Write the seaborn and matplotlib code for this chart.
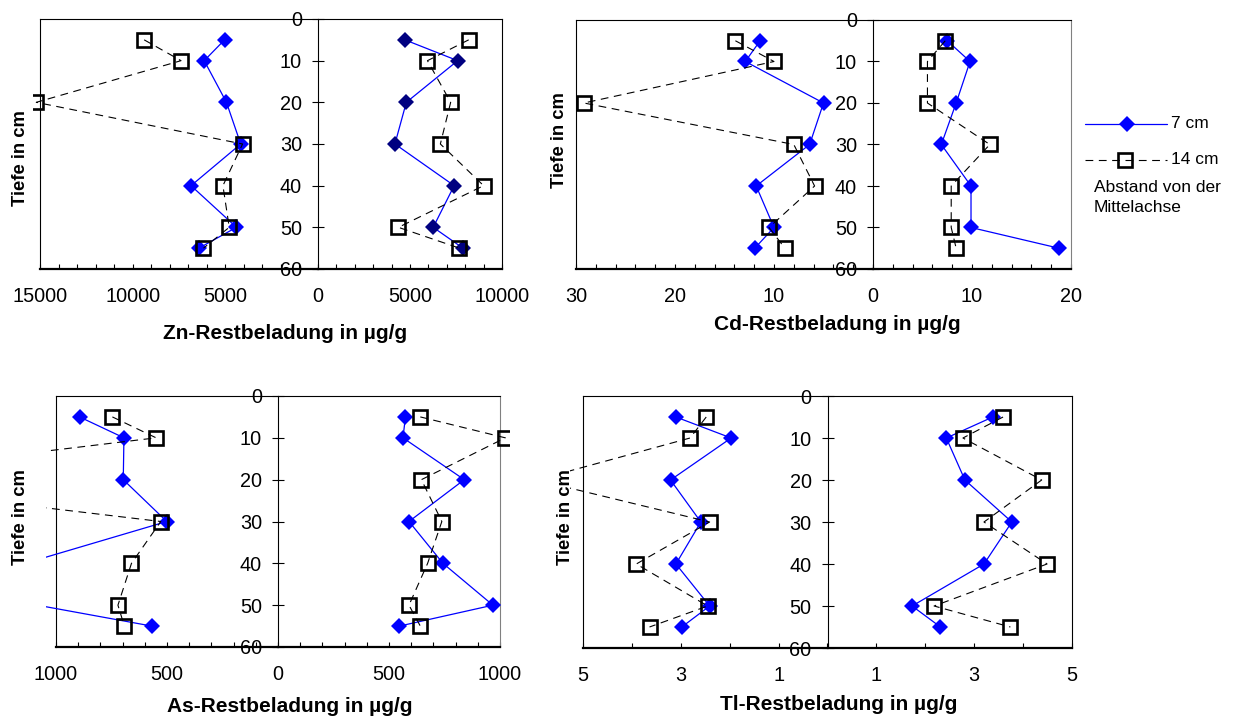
import numpy as np
import pandas as pd
import seaborn as sns
import matplotlib
matplotlib.use("Agg")
import matplotlib.pyplot as plt
from matplotlib.lines import Line2D
from matplotlib.transforms import Bbox, TransformedBbox
from matplotlib.ticker import MultipleLocator, FixedLocator

# ---------------- data ----------------
depth = [5, 10, 20, 30, 40, 50, 55]

zn_left_7 = [5040, 6140, 4940, 4170, 6850, 4400, 6430]
zn_left_14 = [9380, 7390, 15200, 4070, 5130, 4790, 6180]
zn_right_7 = [4720, 7590, 4800, 4180, 7400, 6260, 7880]
zn_right_14 = [8190, 5950, 7210, 6650, 9000, 4370, 7690]

cd_left_7 = [11.4, 12.9, 5.0, 6.4, 11.8, 10.0, 11.95]
cd_left_14 = [13.9, 10.0, 29.2, 8.0, 5.9, 10.5, 8.9]
cd_right_7 = [7.5, 9.8, 8.4, 6.9, 9.9, 9.9, 18.8]
cd_right_14 = [7.3, 5.5, 5.5, 11.8, 7.9, 7.9, 8.4]

as_left_7 = [894, 694, 697, 501, 1139, 1084, 568]
as_left_14 = [746, 549, 2115, 528, 660, 721, 692]
as_right_7 = [574, 563, 839, 590, 743, 968, 547]
as_right_14 = [641, 1024, 646, 738, 674, 590, 641]

tl_left_7 = [3.10, 1.97, 3.21, 2.59, 3.10, 2.41, 2.98]
tl_left_14 = [2.48, 2.81, 5.95, 2.41, 3.91, 2.45, 3.64]
tl_right_7 = [3.38, 2.43, 2.81, 3.77, 3.20, 1.73, 2.31]
tl_right_14 = [3.59, 2.77, 4.38, 3.20, 4.49, 2.18, 3.74]

depth_ticks = [0, 10, 20, 30, 40, 50, 60]
series_labels = ["7 cm", "14 cm"]
legend_note = ["Abstand von der", "Mittelachse"]

# ---------------- style ----------------
sns.set_style("white")
plt.rcParams["font.family"] = ["Liberation Sans", "DejaVu Sans"]
plt.rcParams["axes.linewidth"] = 0.8
plt.rcParams["text.color"] = "black"
plt.rcParams["axes.labelcolor"] = "black"
plt.rcParams["xtick.color"] = "black"
plt.rcParams["ytick.color"] = "black"
plt.rcParams["xtick.labelcolor"] = "black"
plt.rcParams["ytick.labelcolor"] = "black"

W, H = 1236, 717
fig = plt.figure(figsize=(W / 100, H / 100), dpi=100)

BLUE = "#0000FF"
NAVY = "#000080"


def add_axes_px(x0, x1, y0, y1):
    return fig.add_axes([x0 / W, 1 - y1 / H, (x1 - x0) / W, (y1 - y0) / H])


def clip_new_lines(ax, n_before, px_l, px_r, px_v=10):
    pos = ax.get_position()
    wpx = pos.width * W
    hpx = pos.height * H
    bb = Bbox([[-px_l / wpx, -px_v / hpx], [1 + px_r / wpx, 1 + px_v / hpx]])
    tb = TransformedBbox(bb, ax.transAxes)
    for ln in ax.lines[n_before:]:
        ln.set_clip_path(None)
        ln.set_clip_box(tb)
        ln.set_clip_on(True)


def draw_series(ax, v7, v14, clip_l, clip_r, mc7=BLUE):
    n0 = len(ax.lines)
    d7 = pd.DataFrame({"wert": v7, "tiefe": depth})
    d14 = pd.DataFrame({"wert": v14, "tiefe": depth})
    sns.lineplot(data=d7, x="wert", y="tiefe", orient="y", sort=False,
                 estimator=None, ax=ax, color=BLUE, lw=0.9, marker="D",
                 markersize=8.3, markerfacecolor=mc7, markeredgecolor=mc7,
                 markeredgewidth=0, zorder=3)
    sns.lineplot(data=d14, x="wert", y="tiefe", orient="y", sort=False,
                 estimator=None, ax=ax, color="black", lw=0.8,
                 linestyle=(0, (7, 5)), marker="s", markersize=9.5,
                 markerfacecolor="none", markeredgecolor="black",
                 markeredgewidth=1.9, zorder=4)
    clip_new_lines(ax, n0, clip_l, clip_r)


def style_pair(axl, axr, lmax, rmax, lmajor, rmajor, minor, right_spine_color="black"):
    axl.set_xlim(lmax, 0)
    axr.set_xlim(0, rmax)
    for ax in (axl, axr):
        ax.set_ylim(60, 0)
        ax.set_xlabel("")
        ax.set_ylabel("")
        ax.xaxis.set_minor_locator(MultipleLocator(minor))
        ax.tick_params(axis="x", which="both", direction="in", length=3.6,
                       width=0.8, bottom=True, top=False, labelsize=14.3,
                       pad=13, colors="black", labelcolor="black")
        ax.spines["bottom"].set_linewidth(1.6)
        for s in ("top", "left", "right"):
            ax.spines[s].set_linewidth(0.8)
            ax.spines[s].set_color("black")
        ax.spines["bottom"].set_color("black")
    axl.xaxis.set_major_locator(FixedLocator(lmajor))
    axr.xaxis.set_major_locator(FixedLocator(rmajor))
    axl.xaxis.set_major_formatter(matplotlib.ticker.FuncFormatter(lambda v, p: f"{v:g}"))
    axr.xaxis.set_major_formatter(matplotlib.ticker.FuncFormatter(lambda v, p: f"{v:g}"))
    axl.spines["right"].set_visible(False)
    axr.spines["right"].set_color(right_spine_color)
    axl.tick_params(axis="y", left=False, right=False, labelleft=False, labelright=False)
    axr.yaxis.set_major_locator(FixedLocator(depth_ticks))
    axr.yaxis.set_ticks_position("left")
    axr.tick_params(axis="y", which="major", left=True, right=False,
                    labelleft=True, labelright=False, direction="inout",
                    length=8.6, width=0.8, pad=7.2, labelsize=14.3,
                    colors="black", labelcolor="black")
    axr.tick_params(axis="y", which="minor", left=False, right=False)


# ---------------- Zn ----------------
zl = add_axes_px(40, 318, 19, 269)
zr = add_axes_px(318, 502, 19, 269)
draw_series(zl, zn_left_7, zn_left_14, 7, 2)
draw_series(zr, zn_right_7, zn_right_14, 2, 9, mc7=NAVY)
style_pair(zl, zr, 15000, 10000, [15000, 10000, 5000], [0, 5000, 10000], 1000)

# ---------------- Cd ----------------
cl = add_axes_px(576, 873, 20, 269)
cr = add_axes_px(873, 1071, 20, 269)
draw_series(cl, cd_left_7, cd_left_14, 8, 2)
draw_series(cr, cd_right_7, cd_right_14, 2, 9)
style_pair(cl, cr, 30, 20, [30, 20, 10], [0, 10, 20], 2, right_spine_color="#808080")

# ---------------- As ----------------
al = add_axes_px(56, 278, 396, 647)
ar = add_axes_px(278, 500, 396, 647)
draw_series(al, as_left_7, as_left_14, 10, 2)
draw_series(ar, as_right_7, as_right_14, 2, 9)
style_pair(al, ar, 1000, 1000, [1000, 500], [0, 500, 1000], 100, right_spine_color="#808080")

# ---------------- Tl ----------------
tl = add_axes_px(583, 827.5, 396, 648)
tr = add_axes_px(827.5, 1072, 396, 648)
draw_series(tl, tl_left_7, tl_left_14, 13, 2)
draw_series(tr, tl_right_7, tl_right_14, 2, 9)
style_pair(tl, tr, 5, 5, [5, 3, 1], [1, 3, 5], 1)

# ---------------- axis titles ----------------
def ftext(x, y, s, **kw):
    fig.text(x / W, 1 - y / H, s, color="black", **kw)

ylab_kw = dict(rotation=90, ha="center", va="center", fontsize=13.3, fontweight="bold")
ftext(21, 158, "Tiefe in cm", **ylab_kw)
ftext(559, 140, "Tiefe in cm", **ylab_kw)
ftext(21, 517, "Tiefe in cm", **ylab_kw)
ftext(565, 517, "Tiefe in cm", **ylab_kw)

xlab_kw = dict(ha="center", va="baseline", fontsize=15, fontweight="bold")
ftext(285, 339, "Zn-Restbeladung in µg/g", **xlab_kw)
ftext(837, 330, "Cd-Restbeladung in µg/g", **xlab_kw)
ftext(290, 712, "As-Restbeladung in µg/g", **xlab_kw)
ftext(839, 710, "Tl-Restbeladung in µg/g", **xlab_kw)

# ---------------- legend ----------------
def fx(x):
    return x / W

def fy(y):
    return 1 - y / H

fig.add_artist(Line2D([fx(1085), fx(1167)], [fy(124), fy(124)], color=BLUE, lw=0.9,
                      transform=fig.transFigure))
fig.add_artist(Line2D([fx(1127)], [fy(124)], marker="D", markersize=8.3,
                      markerfacecolor=BLUE, markeredgewidth=0, linestyle="none",
                      transform=fig.transFigure))
fig.add_artist(Line2D([fx(1085), fx(1167)], [fy(160), fy(160)], color="black", lw=0.8,
                      linestyle=(0, (7, 5)), transform=fig.transFigure))
fig.add_artist(Line2D([fx(1125)], [fy(160)], marker="s", markersize=9.5,
                      markerfacecolor="none", markeredgecolor="black",
                      markeredgewidth=1.9, linestyle="none",
                      transform=fig.transFigure))
ftext(1171, 124, series_labels[0], ha="left", va="center", fontsize=12.5)
ftext(1171, 160, series_labels[1], ha="left", va="center", fontsize=12.5)
ftext(1094, 188, legend_note[0], ha="left", va="center", fontsize=12.5)
ftext(1094, 208, legend_note[1], ha="left", va="center", fontsize=12.5)

fig.savefig("out.png", dpi=100, facecolor="white")
